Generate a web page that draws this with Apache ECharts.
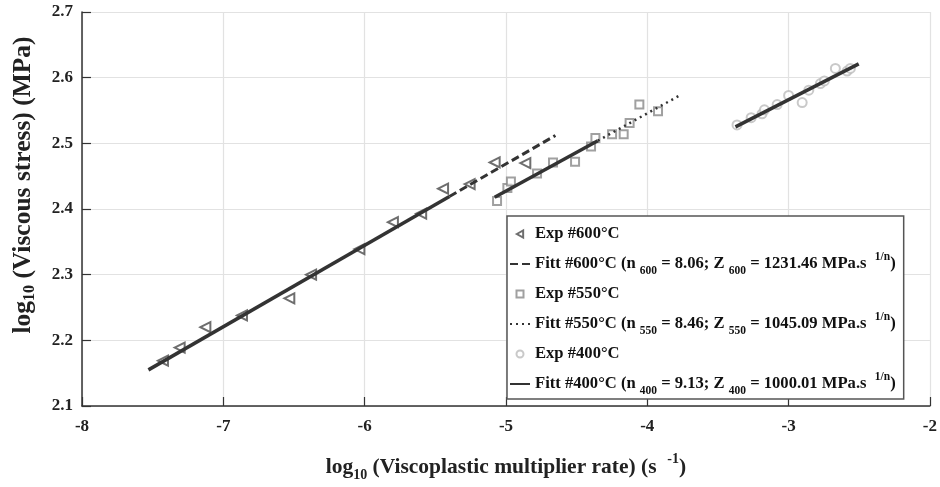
<!DOCTYPE html>
<html><head><meta charset="utf-8">
<script src="https://cdn.jsdelivr.net/npm/echarts@6/dist/echarts.min.js"></script>
<style>html,body{margin:0;padding:0;background:#fff}#c{width:940px;height:487px}</style>
</head><body><div id="c"></div>
<script>
const xTicks = [-8, -7, -6, -5, -4, -3, -2];
const yTicks = [2.1, 2.2, 2.3, 2.4, 2.5, 2.6, 2.7];

const exp600X = [-7.427, -7.309, -7.127, -6.868, -6.533, -6.379, -6.037, -5.80, -5.60, -5.445, -5.257, -5.080, -4.863];
const exp600Y = [2.169, 2.189, 2.220, 2.238, 2.264, 2.300, 2.339, 2.380, 2.393, 2.431, 2.438, 2.471, 2.470];

const exp550X = [-5.063, -4.99, -4.965, -4.780, -4.667, -4.511, -4.398, -4.367, -4.249, -4.167, -4.125, -4.056, -3.924];
const exp550Y = [2.412, 2.432, 2.442, 2.454, 2.471, 2.472, 2.495, 2.508, 2.514, 2.514, 2.531, 2.559, 2.549];

const exp400X = [-3.365, -3.265, -3.188, -3.171, -3.081, -3.000, -2.904, -2.857, -2.775, -2.747, -2.669, -2.586, -2.563];
const exp400Y = [2.528, 2.539, 2.545, 2.551, 2.559, 2.573, 2.562, 2.581, 2.591, 2.595, 2.614, 2.610, 2.614];

// fit lines: [start, style change, end]
const fit600X = [-7.53, -5.40, -4.65];
const fit600Y = [2.155, 2.419, 2.512];
const fit550X = [-5.08, -4.35, -3.77];
const fit550Y = [2.418, 2.504, 2.573];
const fit400X = [-3.376, -2.504];
const fit400Y = [2.525, 2.621];

const names = ['Exp #600°C', 'Fitt #600°C', 'Exp #550°C', 'Fitt #550°C', 'Exp #400°C', 'Fitt #400°C'];
const legendRich = {
  'Fitt #600°C': 'Fitt #600°C (n {s|600} = 8.06; Z {s|600} = 1231.46 MPa.s  {p|1/n})',
  'Fitt #550°C': 'Fitt #550°C (n {s|550} = 8.46; Z {s|550} = 1045.09 MPa.s  {p|1/n})',
  'Fitt #400°C': 'Fitt #400°C (n {s|400} = 9.13; Z {s|400} = 1000.01 MPa.s  {p|1/n})'
};
const triLeft = 'path://M0,5L9,0L9,10Z';
const square = 'path://M0,0L10,0L10,10L0,10Z';

const FONT = '"Liberation Serif", "DejaVu Serif", serif';
const pts = (xs, ys) => xs.map((x, i) => [x, ys[i]]);
const seg = (xs, ys, a, b) => [[xs[a], ys[a]], [xs[b], ys[b]]];

const subStyle = (va) => ({fontFamily: FONT, fontWeight: 'bold', fontSize: 11.5, lineHeight: 12, verticalAlign: va, color: '#111'});

const chart = echarts.init(document.getElementById('c'), null, {renderer: 'canvas'});
chart.setOption({
  animation: false,
  backgroundColor: '#fff',
  grid: {left: 81, right: 10, top: 12, bottom: 76, containLabel: false},
  xAxis: {
    type: 'value', min: xTicks[0], max: xTicks[xTicks.length - 1], interval: 1,
    axisLine: {onZero: false, lineStyle: {color: '#333', width: 1.5}},
    axisTick: {inside: true, length: 9, lineStyle: {color: '#333', width: 1.2}},
    splitLine: {show: true, lineStyle: {color: '#e2e2e2', width: 1.2}},
    axisLabel: {margin: 12, fontFamily: FONT, fontWeight: 'bold', fontSize: 17, color: '#222',
      formatter: v => String(xTicks.find(t => Math.abs(t - v) < 1e-6))},
    name: 'log{s|10} (Viscoplastic multiplier rate) (s  {p|-1})',
    nameLocation: 'middle', nameGap: 46,
    nameTextStyle: {fontFamily: FONT, fontWeight: 'bold', fontSize: 21.5, color: '#222', lineHeight: 30,
      rich: {s: {fontFamily: FONT, fontWeight: 'bold', fontSize: 14, lineHeight: 14, verticalAlign: 'bottom', color: '#222'},
             p: {fontFamily: FONT, fontWeight: 'bold', fontSize: 14, lineHeight: 14, verticalAlign: 'top', color: '#222'}}}
  },
  yAxis: {
    type: 'value', min: yTicks[0], max: yTicks[yTicks.length - 1], interval: 0.1,
    axisLine: {show: true, onZero: false, lineStyle: {color: '#333', width: 1.5}},
    axisTick: {show: true, inside: true, length: 9, lineStyle: {color: '#333', width: 1.2}},
    splitLine: {show: true, lineStyle: {color: '#e2e2e2', width: 1.2}},
    axisLabel: {margin: 9, fontFamily: FONT, fontWeight: 'bold', fontSize: 17, color: '#222',
      formatter: v => yTicks.find(t => Math.abs(t - v) < 1e-6).toFixed(1)},
    name: 'log{s|10} (Viscous stress) (MPa)',
    nameLocation: 'middle', nameGap: 44, nameRotate: 90,
    nameTextStyle: {fontFamily: FONT, fontWeight: 'bold', fontSize: 25.5, color: '#222', lineHeight: 30,
      padding: [0, 0, 0, 48],
      rich: {s: {fontFamily: FONT, fontWeight: 'bold', fontSize: 16, lineHeight: 15, verticalAlign: 'bottom', color: '#222'}}}
  },
  legend: {
    data: [
      {name: names[0], icon: triLeft},
      {name: names[1]},
      {name: names[2], icon: square},
      {name: names[3]},
      {name: names[4], icon: 'circle'},
      {name: names[5]}
    ],
    orient: 'vertical', left: 507, top: 216,
    itemWidth: 20, itemHeight: 7, itemGap: 4,
    padding: [5, 8, 2, 2], symbolKeepAspect: true,
    borderColor: '#555', borderWidth: 1.5, backgroundColor: '#fff',
    formatter: n => legendRich[n] || n,
    textStyle: {fontFamily: FONT, fontWeight: 'bold', fontSize: 16.6, color: '#111', lineHeight: 26,
      rich: {s: subStyle('bottom'), p: subStyle('top')}}
  },
  series: [
    {name: names[0], type: 'scatter', data: pts(exp600X, exp600Y), symbol: 'triangle', symbolRotate: 90, symbolSize: 10,
     itemStyle: {color: '#fff', borderColor: '#4a4a4a', borderWidth: 2}, z: 3},
    {name: names[1], type: 'line', data: seg(fit600X, fit600Y, 1, 2), symbol: 'none',
     itemStyle: {color: '#333', opacity: 0},
     lineStyle: {color: '#333', width: 3, type: [8, 4], opacity: 1}, z: 4},
    {name: names[2], type: 'scatter', data: pts(exp550X, exp550Y), symbol: 'rect', symbolSize: 8,
     itemStyle: {color: '#fff', borderColor: '#888', borderWidth: 2}, z: 3},
    {name: names[3], type: 'line', data: seg(fit550X, fit550Y, 1, 2), symbol: 'none',
     itemStyle: {color: '#333', opacity: 0},
     lineStyle: {color: '#333', width: 2.5, type: [2, 4], opacity: 1}, z: 4},
    {name: names[4], type: 'scatter', data: pts(exp400X, exp400Y), symbol: 'circle', symbolSize: 9,
     itemStyle: {color: '#fff', borderColor: '#bbb', borderWidth: 2}, z: 3},
    {name: names[5], type: 'line', data: pts(fit400X, fit400Y), symbol: 'none',
     itemStyle: {color: '#333', opacity: 0},
     lineStyle: {color: '#333', width: 3.5, opacity: 1}, z: 4},
    {name: 'fit600 solid', type: 'line', data: seg(fit600X, fit600Y, 0, 1), symbol: 'none',
     lineStyle: {color: '#333', width: 3.5}, z: 4},
    {name: 'fit550 solid', type: 'line', data: seg(fit550X, fit550Y, 0, 1), symbol: 'none',
     lineStyle: {color: '#333', width: 3.5}, z: 4}
  ]
});
</script></body></html>
